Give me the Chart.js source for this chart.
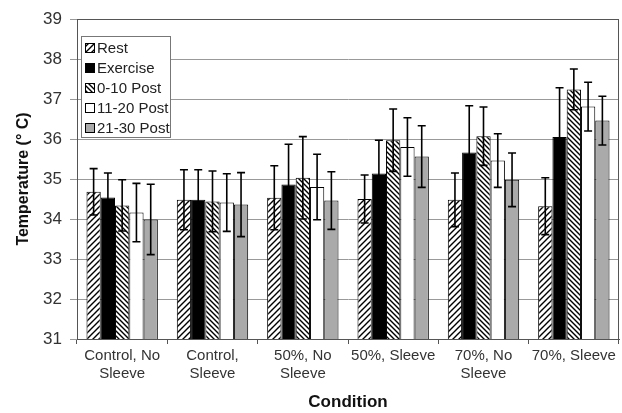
<!DOCTYPE html>
<html>
<head>
<meta charset="utf-8">
<script src="https://cdn.jsdelivr.net/npm/chart.js@4"></script>
<style>
  html, body { margin: 0; padding: 0; background: #fff; }
  #wrap { width: 622px; height: 413px; }
</style>
</head>
<body>
<div id="wrap"><canvas id="chart" width="622" height="413"></canvas></div>
<script>
// categories and series
var conditions = [['Control, No', 'Sleeve'], ['Control,', 'Sleeve'], ['50%, No', 'Sleeve'], '50%, Sleeve', ['70%, No', 'Sleeve'], '70%, Sleeve'];
var seriesNames = ['Rest', 'Exercise', '0-10 Post', '11-20 Post', '21-30 Post'];

var rest     = [34.68, 34.48, 34.53, 34.50, 34.48, 34.32];
var exercise = [34.54, 34.48, 34.86, 35.14, 35.66, 36.05];
var post0    = [34.34, 34.44, 35.03, 35.97, 36.07, 37.24];
var post11   = [34.16, 34.41, 34.80, 35.80, 35.46, 36.81];
var post21   = [33.99, 34.36, 34.46, 35.56, 34.98, 36.46];

// error bar half-widths (+/-)
var restErr     = [0.58, 0.75, 0.80, 0.60, 0.67, 0.71];
var exerciseErr = [0.61, 0.75, 1.01, 0.83, 1.17, 1.23];
var post0Err    = [0.64, 0.76, 1.03, 0.78, 0.73, 0.51];
var post11Err   = [0.73, 0.72, 0.82, 0.73, 0.67, 0.61];
var post21Err   = [0.88, 0.80, 0.72, 0.77, 0.67, 0.61];

var yTicks = [31, 32, 33, 34, 35, 36, 37, 38, 39];

function hatch(dir, size, width) {
  var c = document.createElement('canvas');
  c.width = size; c.height = size;
  var g = c.getContext('2d');
  g.fillStyle = '#fff';
  g.fillRect(0, 0, size, size);
  g.strokeStyle = '#000';
  g.lineWidth = width;
  g.beginPath();
  if (dir === '/') {
    g.moveTo(-1, size + 1); g.lineTo(size + 1, -1);
    g.moveTo(-1, 1); g.lineTo(1, -1);
    g.moveTo(size - 1, size + 1); g.lineTo(size + 1, size - 1);
  } else {
    g.moveTo(-1, -1); g.lineTo(size + 1, size + 1);
    g.moveTo(size - 1, -1); g.lineTo(size + 1, 1);
    g.moveTo(-1, size - 1); g.lineTo(1, size + 1);
  }
  g.stroke();
  return g.createPattern(c, 'repeat');
}

var ctx = document.getElementById('chart').getContext('2d');
var fills = [hatch('/', 6, 1.4), '#000', hatch('\\', 5, 1.4), '#fff', '#aaaaaa'];
var values = [rest, exercise, post0, post11, post21];
var errs = [restErr, exerciseErr, post0Err, post11Err, post21Err];

var errorBars = {
  id: 'errorBars',
  afterDatasetsDraw: function(chart) {
    var c = chart.ctx, y = chart.scales.y;
    c.save();
    c.strokeStyle = '#000';
    c.lineWidth = 1.6;
    chart.data.datasets.forEach(function(ds, i) {
      chart.getDatasetMeta(i).data.forEach(function(bar, j) {
        var v = ds.data[j], e = ds.errors[j];
        var top = y.getPixelForValue(v + e), bot = y.getPixelForValue(v - e);
        c.beginPath();
        c.moveTo(bar.x, top); c.lineTo(bar.x, bot);
        c.moveTo(bar.x - 4, top); c.lineTo(bar.x + 4, top);
        c.moveTo(bar.x - 4, bot); c.lineTo(bar.x + 4, bot);
        c.stroke();
      });
    });
    c.restore();
  }
};

var frameAndLegend = {
  id: 'frameAndLegend',
  afterDraw: function(chart) {
    var c = chart.ctx, a = chart.chartArea;
    c.save();
    c.strokeStyle = '#555';
    c.lineWidth = 1;
    c.strokeRect(a.left + 0.5, a.top + 0.5, a.right - a.left - 1, a.bottom - a.top);
    // legend box inside the plot
    var lx = a.left + 4, ly = a.top + 17, lw = 89, lh = 101;
    c.fillStyle = '#fff';
    c.fillRect(lx, ly, lw, lh);
    c.strokeStyle = '#777';
    c.strokeRect(lx + 0.5, ly + 0.5, lw, lh);
    c.font = '15px "Liberation Sans", Arial, sans-serif';
    c.textBaseline = 'middle';
    chart.data.datasets.forEach(function(ds, i) {
      var ry = ly + 12 + i * 20;
      c.fillStyle = ds.backgroundColor;
      c.fillRect(lx + 4, ry - 5, 10, 10);
      c.strokeStyle = '#000';
      c.strokeRect(lx + 4.5, ry - 4.5, 9, 9);
      c.fillStyle = '#222';
      c.fillText(ds.label, lx + 16, ry + 1);
    });
    c.restore();
  }
};

new Chart(ctx, {
  type: 'bar',
  data: {
    labels: conditions,
    datasets: seriesNames.map(function(name, i) {
      return {
        label: name,
        data: values[i],
        errors: errs[i],
        backgroundColor: fills[i],
        borderColor: '#000',
        borderWidth: 1,
        borderSkipped: 'bottom',
        barPercentage: 1.0,
        categoryPercentage: 0.79
      };
    })
  },
  options: {
    responsive: false,
    animation: false,
    layout: { padding: { top: 19, right: 3, left: 12, bottom: 0 } },
    plugins: {
      legend: { display: false },
      tooltip: { enabled: false }
    },
    scales: {
      x: {
        afterFit: function(s) { s.height = 74; },
        grid: { drawOnChartArea: false, drawTicks: true, tickLength: 5, color: '#555', offset: true },
        border: { color: '#555' },
        ticks: {
          color: '#333',
          font: { family: '"Liberation Sans", Arial, sans-serif', size: 15 },
          padding: 3,
          maxRotation: 0
        },
        title: {
          display: true,
          text: 'Condition',
          color: '#111',
          font: { family: '"Liberation Sans", Arial, sans-serif', size: 17, weight: 'bold' },
          padding: { top: 4, bottom: 0 }
        }
      },
      y: {
        min: 31,
        max: 39,
        afterFit: function(s) { s.width = 65; },
        afterBuildTicks: function(s) { s.ticks = yTicks.map(function(v) { return { value: v }; }); },
        grid: { color: '#999', lineWidth: 1, tickLength: 7, drawTicks: true },
        border: { color: '#555' },
        ticks: {
          color: '#333',
          font: { family: '"Liberation Sans", Arial, sans-serif', size: 17 },
          padding: 8
        },
        title: {
          display: true,
          text: 'Temperature (° C)',
          color: '#111',
          font: { family: '"Liberation Sans", Arial, sans-serif', size: 16, weight: 'bold' },
          padding: { top: 2, bottom: 4 }
        }
      }
    }
  },
  plugins: [errorBars, frameAndLegend]
});
</script>
</body>
</html>
